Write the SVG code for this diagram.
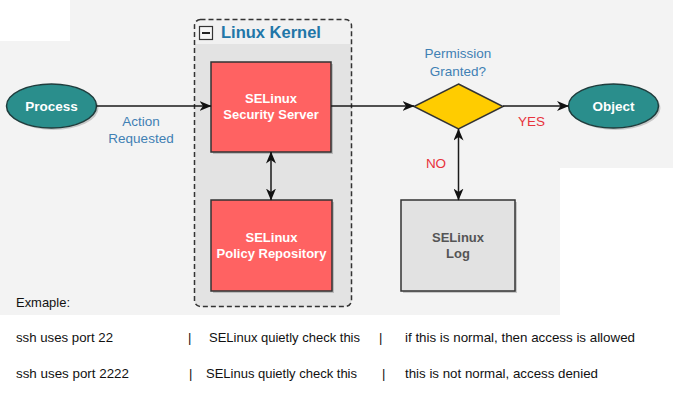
<svg xmlns="http://www.w3.org/2000/svg" width="673" height="420" viewBox="0 0 673 420">
<style>
.bg{fill:#f3f3f3}
.lbl{font-family:"Liberation Sans",Arial,sans-serif;font-size:13.5px;text-anchor:middle}
.blue{fill:#3f80b4}
.red{fill:#e8323c}
.nodet{font-family:"Liberation Sans",Arial,sans-serif;font-size:13px;font-weight:bold;text-anchor:middle}
.wt{fill:#ffffff}
.dk{fill:#555555}
.conn{stroke:#1a1a1a;stroke-width:1.5;fill:none}
.box{stroke:#333333;stroke-width:1.5}
.shadow{fill:#000000;opacity:0.18}
.ex{font-family:"Liberation Sans",Arial,sans-serif;font-size:13px;fill:#111111}
</style>
<defs>
<marker id="ah" viewBox="0 0 12 10" refX="11.5" refY="5" markerWidth="12" markerHeight="10" markerUnits="userSpaceOnUse" orient="auto-start-reverse">
<path d="M0,0 L12,5 L0,10 L3.5,5 Z" fill="#111111"/>
</marker>
</defs>
<rect x="0" y="0" width="673" height="420" fill="#ffffff"/>
<path class="bg" d="M70,0 H673 V168 H560 V315 H0 V41 H70 Z"/>

<g id="kernel">
<rect x="194.5" y="19.5" width="157" height="287" rx="6" fill="#e3e3e3"/>
<path d="M194.5,44 V25.5 a6,6 0 0 1 6,-6 H345.5 a6,6 0 0 1 6,6 V44 Z" fill="#f1f1f1"/>
<rect x="194.5" y="19.5" width="157" height="287" rx="6" fill="none" stroke="#333333" stroke-width="1.5" stroke-dasharray="5,3"/>
<rect x="199.5" y="26.5" width="13" height="13" fill="#f5f5f5" stroke="#333333" stroke-width="1.2"/>
<line x1="202" y1="33" x2="210" y2="33" stroke="#222222" stroke-width="2"/>
<text x="221" y="38" font-family="Liberation Sans,Arial,sans-serif" font-size="16.5" font-weight="bold" fill="#2176a8">Linux Kernel</text>
</g>

<g id="process">
<ellipse cx="53.5" cy="108" rx="45" ry="22" class="shadow"/>
<ellipse cx="51.5" cy="106" rx="45" ry="22" fill="#2a8e8c" stroke="#1f3d3d" stroke-width="1.5"/>
<text x="51.5" y="111" class="nodet wt" style="font-size:13.5px">Process</text>
</g>

<g id="security-server">
<rect x="213" y="64" width="120" height="90" class="shadow"/>
<rect x="211" y="62" width="120" height="90" fill="#ff6262" class="box"/>
<text x="271" y="103" class="nodet wt">SELinux</text>
<text x="271" y="119" class="nodet wt">Security Server</text>
</g>

<g id="policy-repository">
<rect x="213" y="202" width="121" height="91" class="shadow"/>
<rect x="211" y="200" width="121" height="91" fill="#ff6262" class="box"/>
<text x="271.5" y="242" class="nodet wt">SELinux</text>
<text x="271.5" y="258" class="nodet wt">Policy Repository</text>
</g>

<g id="decision">
<polygon points="458.5,84 503,106.5 458.5,129 414,106.5" fill="#ffcc00" stroke="#333333" stroke-width="1.5"/>
<text x="458" y="58" class="lbl blue">Permission</text>
<text x="458" y="76" class="lbl blue">Granted?</text>
</g>

<g id="object">
<ellipse cx="615.5" cy="108" rx="45" ry="22" class="shadow"/>
<ellipse cx="613.5" cy="106" rx="45" ry="22" fill="#2a8e8c" stroke="#1f3d3d" stroke-width="1.5"/>
<text x="613.5" y="111" class="nodet wt" style="font-size:13.5px">Object</text>
</g>

<g id="log">
<rect x="403" y="202" width="114" height="91" class="shadow"/>
<rect x="401" y="200" width="114" height="91" fill="#e2e2e2" class="box"/>
<text x="458" y="242" class="nodet dk">SELinux</text>
<text x="458" y="258" class="nodet dk">Log</text>
</g>

<g id="connectors">
<line x1="96.5" y1="106" x2="211" y2="106" class="conn" marker-end="url(#ah)"/>
<line x1="331" y1="106" x2="414" y2="106" class="conn" marker-end="url(#ah)"/>
<line x1="503" y1="106" x2="568.5" y2="106" class="conn" marker-end="url(#ah)"/>
<line x1="271" y1="152" x2="271" y2="200" class="conn" marker-start="url(#ah)" marker-end="url(#ah)"/>
<line x1="458.5" y1="129" x2="458.5" y2="200" class="conn" marker-start="url(#ah)" marker-end="url(#ah)"/>
<text x="141" y="126" class="lbl blue">Action</text>
<text x="141" y="143" class="lbl blue">Requested</text>
<text x="531.5" y="126" class="lbl red">YES</text>
<text x="436" y="168" class="lbl red">NO</text>
</g>

<g id="example">
<text x="16" y="307" class="ex" textLength="54" lengthAdjust="spacingAndGlyphs">Exmaple:</text>
<text x="16" y="342" class="ex" textLength="97" lengthAdjust="spacingAndGlyphs">ssh uses port 22</text>
<text x="188" y="342" class="ex">|</text>
<text x="209" y="342" class="ex" textLength="151" lengthAdjust="spacingAndGlyphs">SELinux quietly check this</text>
<text x="379" y="342" class="ex">|</text>
<text x="405" y="342" class="ex" textLength="230" lengthAdjust="spacingAndGlyphs">if this is normal, then access is allowed</text>
<text x="16" y="378" class="ex" textLength="113" lengthAdjust="spacingAndGlyphs">ssh uses port 2222</text>
<text x="189" y="378" class="ex">|</text>
<text x="206" y="378" class="ex" textLength="151" lengthAdjust="spacingAndGlyphs">SELinus quietly check this</text>
<text x="382" y="378" class="ex">|</text>
<text x="405" y="378" class="ex" textLength="193" lengthAdjust="spacingAndGlyphs">this is not normal, access denied</text>
</g>
</svg>
